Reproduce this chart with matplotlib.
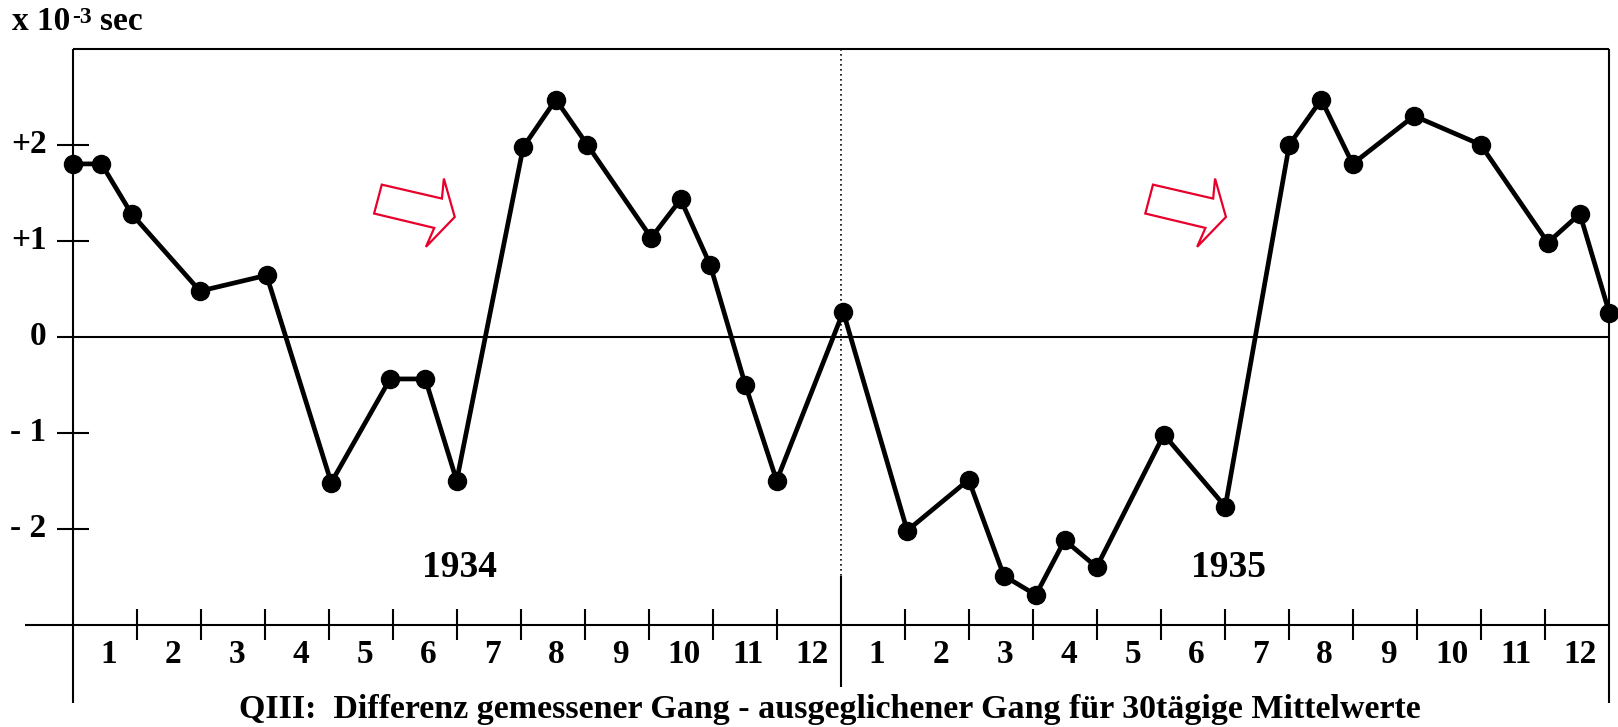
import numpy as np
import matplotlib.pyplot as plt
from matplotlib.patches import Polygon

# 30-day means, position in months from Jan 1934 (0..24), value in 1e-3 sec
month_pos = [0, 0.44, 0.91, 1.98, 3.02, 4.03, 4.95, 5.5, 5.99, 7.03, 7.54, 8.03,
             9.03, 9.49, 9.95, 10.5, 10.99, 12.03, 13.03, 13.99, 14.54, 15.04,
             15.49, 15.99, 17.04, 18.0, 19.0, 19.5, 19.99, 20.95, 21.99, 23.04,
             23.54, 24.0]
diff_vals = [1.80, 1.80, 1.28, 0.475, 0.64, -1.52, -0.44, -0.44, -1.50, 1.975,
             2.47, 2.0, 1.03, 1.43, 0.75, -0.5, -1.5, 0.26, -2.02, -1.49, -2.49,
             -2.69, -2.12, -2.40, -1.02, -1.77, 2.0, 2.47, 1.80, 2.30, 2.0, 0.98,
             1.28, 0.25]

ytick_vals = [2, 1, 0, -1, -2]
ytick_labels = ['+2', '+1', '0', '- 1', '- 2']
month_labels = [str(m) for m in range(1, 13)] * 2
year_labels = ['1934', '1935']
arrow_tips = [(5.96, 1.247), (18.01, 1.247)]

plt.rcParams['font.family'] = ['Liberation Serif', 'DejaVu Serif']
plt.rcParams['font.weight'] = 'bold'

W, H = 1618, 727
fig = plt.figure(figsize=(W / 100, H / 100), dpi=100)
ax = fig.add_axes([73.3 / W, (H - 624.7) / H, 1536 / W, 576 / H])
ax.set_xlim(0, 24)
ax.set_ylim(-3, 3)
ax.axis('off')

k = dict(color='black', clip_on=False, solid_capstyle='butt')
fs = 24

# frame
ax.plot([0, 24], [3, 3], lw=1.5, **k)
ax.plot([0, 0], [-3.82, 3], lw=1.5, **k)
ax.plot([24, 24], [-3.82, 3], lw=1.5, **k)
ax.plot([-0.755, 24], [-3, -3], lw=1.5, **k)
ax.plot([-0.255, 24], [0, 0], lw=1.5, **k)

# y ticks
for v, lab in zip(ytick_vals, ytick_labels):
    if v != 0:
        ax.plot([-0.255, 0.245], [v, v], lw=1.5, **k)
    ax.text(-0.42, v, lab, ha='right', va='center', fontsize=fs, fontweight='bold')

# x ticks
for m in range(1, 24):
    if m == 12:
        continue
    ax.plot([m, m], [-2.837, -3.16], lw=1.5, **k)
ax.plot([12, 12], [3, -2.495], lw=1.2, color='black', ls=(0, (1, 2)), clip_on=False)
ax.plot([12, 12], [-2.495, -3.65], lw=1.5, **k)

for i, lab in enumerate(month_labels):
    ax.text(i + 0.55, -3.315, lab, ha='center', va='center', fontsize=fs, fontweight='bold')

ax.text(6.04, -2.405, year_labels[0], ha='center', va='center', fontsize=27, fontweight='bold')
ax.text(18.05, -2.405, year_labels[1], ha='center', va='center', fontsize=27, fontweight='bold')

# red hollow arrows
shape = np.array([(-1.14, 0.337), (-0.20, 0.192), (-0.17, 0.400), (0, 0),
                  (-0.45, -0.311), (-0.32, -0.114), (-1.26, 0.036)])
for tx, ty in arrow_tips:
    ax.add_patch(Polygon(shape + [tx, ty], closed=True, fill=False,
                         edgecolor='#e8002a', lw=1.6, clip_on=False))

# data
ax.plot(month_pos, diff_vals, color='black', lw=3.4, marker='o', markersize=13,
        clip_on=False, zorder=5)

# unit label with small raised "-3"
t1 = fig.text(12 / W, 1 - 30 / H, 'x 10', ha='left', va='baseline',
              fontsize=fs, fontweight='bold')
sup = ax.annotate('-3', xy=(1, 0), xycoords=t1, xytext=(1, 10),
                  textcoords='offset points', va='baseline', ha='left',
                  fontsize=17, fontweight='bold')
ax.annotate('sec', xy=(1, 0), xycoords=(sup, t1), xytext=(6, 0),
            textcoords='offset points', va='bottom', ha='left',
            fontsize=fs, fontweight='bold')

fig.text(830 / W, 1 - 718 / H,
         'QIII:  Differenz gemessener Gang - ausgeglichener Gang für 30tägige Mittelwerte',
         ha='center', va='baseline', fontsize=fs + 0.5, fontweight='bold')

fig.savefig('out.png', dpi=100, facecolor='white')
